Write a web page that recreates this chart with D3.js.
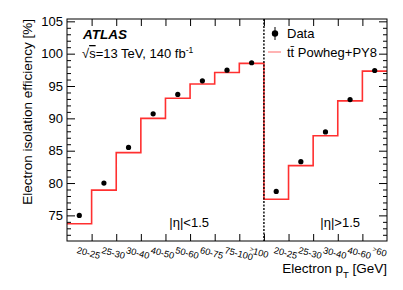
<!DOCTYPE html>
<html>
<head>
<meta charset="utf-8">
<script src="https://cdn.jsdelivr.net/npm/d3@7"></script>
<style>
  body { margin: 0; background: #fff; }
  text { font-family: "Liberation Sans", Arial, sans-serif; fill: #000; }
</style>
</head>
<body>
<div id="chart"></div>
<script>
// bins (pT ranges) for the two eta regions
const binsLow = ["20-25", "25-30", "30-40", "40-50", "50-60", "60-75", "75-100", ">100"];
const binsHigh = ["20-25", "25-30", "30-40", "40-60", ">60"];

// efficiencies [%]
const mcLow = [73.7, 78.9, 84.7, 90.0, 93.1, 95.3, 97.1, 98.5];
const dataLow = [75.0, 80.0, 85.5, 90.7, 93.7, 95.8, 97.45, 98.6];
const mcHigh = [77.5, 82.7, 87.3, 92.7, 97.3];
const dataHigh = [78.7, 83.3, 87.9, 92.9, 97.4];

const yTicks = [75, 80, 85, 90, 95, 100, 105];

const width = 403, height = 290;
const margin = {left: 67, right: 16, top: 19, bottom: 49};

const svg = d3.select("#chart").append("svg")
    .attr("width", width)
    .attr("height", height);

const labels = binsLow.concat(binsHigh);
const mc = mcLow.concat(mcHigh);
const data = dataLow.concat(dataHigh);

const x = d3.scaleLinear()
    .domain([0, labels.length])
    .range([margin.left, width - margin.right]);

const y = d3.scaleLinear()
    .domain([71.04, 105.36])
    .range([height - margin.bottom, margin.top]);

const x0 = x.range()[0], x1 = x.range()[1];
const y0 = y.range()[0], y1 = y.range()[1];

// axes: left/right with minor ticks, top/bottom at bin edges
const minor = d3.range(72, 106, 1).filter(v => v % 5 !== 0);

svg.append("g")
    .attr("transform", `translate(${x0},0)`)
    .call(d3.axisRight(y).tickValues(minor).tickSize(4).tickFormat(""))
    .call(g => g.select(".domain").remove());
svg.append("g")
    .attr("transform", `translate(${x0},0)`)
    .call(d3.axisRight(y).tickValues(yTicks).tickSize(8).tickFormat(""))
    .call(g => g.select(".domain").remove());
svg.append("g")
    .attr("transform", `translate(${x1},0)`)
    .call(d3.axisLeft(y).tickValues(minor).tickSize(4).tickFormat(""))
    .call(g => g.select(".domain").remove());
svg.append("g")
    .attr("transform", `translate(${x1},0)`)
    .call(d3.axisLeft(y).tickValues(yTicks).tickSize(8).tickFormat(""))
    .call(g => g.select(".domain").remove());

const edges = d3.range(1, labels.length);
svg.append("g")
    .attr("transform", `translate(0,${y0})`)
    .call(d3.axisTop(x).tickValues(edges).tickSize(7).tickFormat(""))
    .call(g => g.select(".domain").remove());
svg.append("g")
    .attr("transform", `translate(0,${y1})`)
    .call(d3.axisBottom(x).tickValues(edges).tickSize(7).tickFormat(""))
    .call(g => g.select(".domain").remove());

svg.selectAll(".tick line").attr("stroke", "#000").attr("stroke-width", 1);

// y tick labels
svg.selectAll("text.ylab")
    .data(yTicks)
    .enter()
    .append("text")
    .attr("class", "ylab")
    .attr("x", x0 - 4)
    .attr("y", d => y(d) + 4.6)
    .attr("text-anchor", "end")
    .style("font-size", "13px")
    .text(d => d);

// x tick labels (rotated)
const xl = svg.selectAll("text.xlab")
    .data(labels)
    .enter()
    .append("text")
    .attr("class", "xlab")
    .attr("transform", (d, i) => `translate(${x(i + 0.5) - 3},${y0 + 12}) rotate(15)`)
    .style("font-size", "9.3px");
xl.each(function(d) {
    const t = d3.select(this);
    if (d[0] === ">") {
        t.append("tspan").attr("font-size", "7px").attr("dy", -2).text(">");
        t.append("tspan").attr("dy", 2).text(d.slice(1));
    } else {
        t.text(d);
    }
});

// MC step line
const stepPts = [];
mc.forEach((v, i) => { stepPts.push([i, v]); stepPts.push([i + 1, v]); });
svg.append("path")
    .datum(stepPts)
    .attr("fill", "none")
    .attr("stroke", "#ff3030")
    .attr("stroke-width", 1.6)
    .attr("d", d3.line().x(d => x(d[0])).y(d => y(d[1])));

// separator between eta regions
svg.append("line")
    .attr("x1", x(binsLow.length)).attr("x2", x(binsLow.length))
    .attr("y1", y1).attr("y2", y0)
    .attr("stroke", "#000")
    .attr("stroke-width", 1.4)
    .attr("stroke-dasharray", "2,1.5");

// data points
svg.selectAll("circle.pt")
    .data(data)
    .enter()
    .append("circle")
    .attr("class", "pt")
    .attr("cx", (d, i) => x(i + 0.5))
    .attr("cy", d => y(d))
    .attr("r", 2.6)
    .attr("fill", "#000");

// frame
svg.append("rect")
    .attr("x", x0).attr("y", y1)
    .attr("width", x1 - x0).attr("height", y0 - y1)
    .attr("fill", "none")
    .attr("stroke", "#000")
    .attr("stroke-width", 1);

// ATLAS label
svg.append("text")
    .attr("x", 83).attr("y", 39)
    .style("font-size", "13.5px")
    .style("font-weight", "bold")
    .style("font-style", "italic")
    .text("ATLAS");

const lumi = svg.append("text")
    .attr("x", 82).attr("y", 58)
    .style("font-size", "13px");
lumi.append("tspan").text("√");
lumi.append("tspan").style("text-decoration", "overline").text("s");
lumi.append("tspan").text("=13 TeV, 140 fb");
lumi.append("tspan").attr("dy", -5).style("font-size", "8.5px").text("-1");

// legend
svg.append("line")
    .attr("x1", 275).attr("x2", 275)
    .attr("y1", 27).attr("y2", 40)
    .attr("stroke", "#000").attr("stroke-width", 1);
svg.append("circle")
    .attr("cx", 275).attr("cy", 33.5).attr("r", 3.2).attr("fill", "#000");
svg.append("text")
    .attr("x", 287).attr("y", 38)
    .style("font-size", "13px")
    .text("Data");
svg.append("line")
    .attr("x1", 268).attr("x2", 281)
    .attr("y1", 52).attr("y2", 52)
    .attr("stroke", "#ff8080").attr("stroke-width", 1.2);
svg.append("text")
    .attr("x", 287).attr("y", 57)
    .style("font-size", "13px")
    .text("tt\u0304 Powheg+PY8");

// region labels
svg.append("text")
    .attr("x", 209).attr("y", 227)
    .attr("text-anchor", "end")
    .style("font-size", "13px")
    .text("|η|<1.5");
svg.append("text")
    .attr("x", 360).attr("y", 227)
    .attr("text-anchor", "end")
    .style("font-size", "13px")
    .text("|η|>1.5");

// axis titles
const xt = svg.append("text")
    .attr("x", x1).attr("y", 273)
    .attr("text-anchor", "end")
    .style("font-size", "13.5px");
xt.append("tspan").text("Electron p");
xt.append("tspan").attr("dy", 5).style("font-size", "9.5px").text("T");
xt.append("tspan").attr("dy", -5).text(" [GeV]");

svg.append("text")
    .attr("transform", `translate(32,${y1}) rotate(-90)`)
    .attr("text-anchor", "end")
    .style("font-size", "13.5px")
    .text("Electron isolation efficiency [%]");
</script>
</body>
</html>
